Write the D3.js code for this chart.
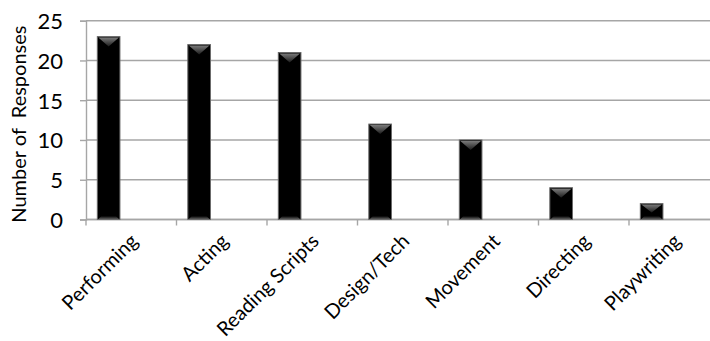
<!DOCTYPE html>
<html>
<head>
<meta charset="utf-8">
<script src="https://cdn.jsdelivr.net/npm/d3@7/dist/d3.min.js"></script>
<style>
  html, body { margin: 0; padding: 0; background: #fff; }
  svg { display: block; }
  text { font-family: Lato, "Open Sans", sans-serif; fill: #000; }
</style>
</head>
<body>
<svg id="chart" width="710" height="341"></svg>
<script>
// Survey responses per theatre skill area
const categories = ["Performing", "Acting", "Reading Scripts", "Design/Tech", "Movement", "Directing", "Playwriting"];
const responses = [23, 22, 21, 12, 10, 4, 2];
const yTicks = [0, 5, 10, 15, 20, 25];
const yTitle = "Number of  Responses";

const svg = d3.select("#chart");
const plot = { left: 86, right: 719.5, top: 20.7, bottom: 219.5 };

const x = d3.scaleBand().domain(categories).range([plot.left, plot.right]).padding(0);
const y = d3.scaleLinear().domain([0, 25]).range([plot.bottom, plot.top]);

// Bevel gradients
const defs = svg.append("defs");
const topGrad = defs.append("linearGradient").attr("id", "bevelTop")
  .attr("x1", 0).attr("y1", 0).attr("x2", 0).attr("y2", 1);
topGrad.append("stop").attr("offset", "0%").attr("stop-color", "#7a7a7a");
topGrad.append("stop").attr("offset", "100%").attr("stop-color", "#1c1c1c");
const botGrad = defs.append("linearGradient").attr("id", "bevelBottom")
  .attr("x1", 0).attr("y1", 0).attr("x2", 0).attr("y2", 1);
botGrad.append("stop").attr("offset", "0%").attr("stop-color", "#000");
botGrad.append("stop").attr("offset", "100%").attr("stop-color", "#5a5a5a");
const shadow = defs.append("filter").attr("id", "soft").attr("x", "-20%").attr("y", "-20%").attr("width", "140%").attr("height", "140%");
shadow.append("feGaussianBlur").attr("stdDeviation", 0.6);

// Horizontal gridlines
svg.append("g")
  .selectAll("line")
  .data(yTicks)
  .join("line")
  .attr("x1", plot.left).attr("x2", plot.right)
  .attr("y1", d => y(d)).attr("y2", d => y(d))
  .attr("stroke", "#a6a6a6").attr("stroke-width", 1.4);

// Y axis
const yAxis = d3.axisLeft(y).tickValues(yTicks).tickSize(6).tickPadding(17).tickFormat(d3.format("d"));
const gy = svg.append("g").attr("transform", `translate(${plot.left},0)`).call(yAxis);
gy.select(".domain").attr("stroke", "#a6a6a6").attr("stroke-width", 1.4);
gy.selectAll(".tick line").attr("stroke", "#a6a6a6").attr("stroke-width", 1.4);
gy.selectAll(".tick text").attr("font-size", 22).attr("font-family", "Lato, sans-serif").attr("fill", "#000").attr("dy", "0.36em");

// X axis line and ticks at category boundaries
svg.append("line")
  .attr("x1", plot.left).attr("x2", plot.right)
  .attr("y1", y(0)).attr("y2", y(0))
  .attr("stroke", "#a6a6a6").attr("stroke-width", 1.4);
svg.append("g")
  .selectAll("line")
  .data(categories)
  .join("line")
  .attr("x1", d => x(d)).attr("x2", d => x(d))
  .attr("y1", y(0)).attr("y2", y(0) + 6)
  .attr("stroke", "#a6a6a6").attr("stroke-width", 1.4);

// Bars with bevelled top and bottom
const barOff = x.bandwidth() * 0.125;
const barW = x.bandwidth() * 0.25;
const bars = svg.append("g")
  .selectAll("g")
  .data(categories.map((c, i) => ({ c, v: responses[i] })))
  .join("g")
  .attr("transform", d => `translate(${x(d.c) + barOff},0)`);

bars.append("rect")
  .attr("x", 0).attr("width", barW)
  .attr("y", d => y(d.v)).attr("height", d => y(0) - y(d.v))
  .attr("fill", "#000").attr("stroke", "#6a6a6a").attr("stroke-width", 1)
  .attr("filter", "url(#soft)");

bars.append("path")
  .attr("d", d => {
    const t = y(d.v) + 1, h = Math.min(9, (y(0) - y(d.v)) / 2);
    return `M1,${t} L${barW - 1},${t} L${barW / 2},${t + h} Z`;
  })
  .attr("fill", "url(#bevelTop)");

bars.append("path")
  .attr("d", d => {
    const b = y(0) - 0.5, h = 3;
    return `M1,${b} L${barW - 1},${b} L${barW - 1 - h},${b - h} L${1 + h},${b - h} Z`;
  })
  .attr("fill", "url(#bevelBottom)");

// Rotated category labels
svg.append("g")
  .selectAll("text")
  .data(categories)
  .join("text")
  .attr("transform", d => `translate(${x(d) + x.bandwidth() / 2 + 3},${y(0) + 18}) rotate(-45)`)
  .attr("text-anchor", "end")
  .attr("dy", "0.35em")
  .attr("font-size", 20)
  .text(d => d);

// Y axis title
svg.append("text")
  .attr("transform", `translate(19,${(plot.top + plot.bottom) / 2 + 4}) rotate(-90)`)
  .attr("text-anchor", "middle")
  .attr("dy", "0.35em")
  .attr("font-size", 20)
  .style("white-space", "pre")
  .text(yTitle);
</script>
</body>
</html>
